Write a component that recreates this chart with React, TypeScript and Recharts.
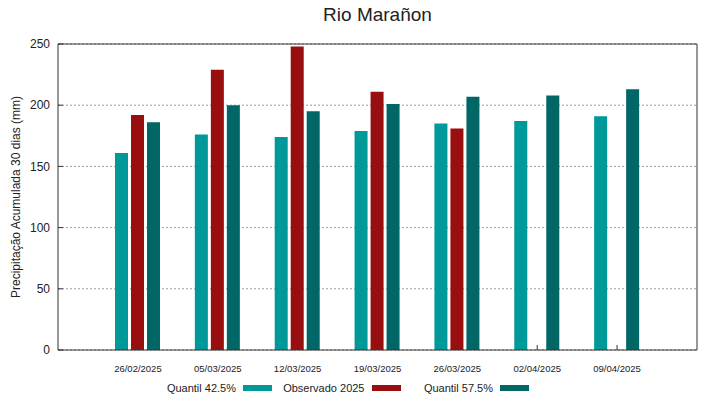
import React from "react";
import { ComposedChart, Bar, Line, XAxis, YAxis, CartesianGrid } from "recharts";

const DATES = ["26/02/2025", "05/03/2025", "12/03/2025", "19/03/2025", "26/03/2025", "02/04/2025", "09/04/2025"];
const Q425 = [161, 176, 174, 179, 185, 187, 191];
const OBS: (number | null)[] = [192, 229, 248, 211, 181, null, null];
const Q575 = [186, 200, 195, 201, 207, 208, 213];
const Y_TICKS = [0, 50, 100, 150, 200, 250];

const SERIES = [
  { key: "q425", name: "Quantil 42.5%", color: "#009999" },
  { key: "obs", name: "Observado 2025", color: "#990f0f" },
  { key: "q575", name: "Quantil 57.5%", color: "#006666" },
];

const data = DATES.map((date, i) => ({ date, q425: Q425[i], obs: OBS[i], q575: Q575[i] }));

const FONT = "'Liberation Sans', Arial, sans-serif";
const AXIS = "#333";
const TXT = { fill: "#222", fontSize: 12, fontFamily: FONT };

export default function App() {
  return (
    <div style={{ position: "absolute", left: 0, top: 0, width: 719, height: 399, background: "#fff", fontFamily: FONT, color: "#222" }}>
      <div style={{ position: "absolute", left: 58, width: 639, top: 4, textAlign: "center", fontSize: 19 }}>Rio Marañon</div>
      <div
        style={{
          position: "absolute", left: 16, top: 197, width: 300, marginLeft: -150, textAlign: "center",
          fontSize: 12, lineHeight: "14px", marginTop: -7, transform: "rotate(-90deg)", whiteSpace: "nowrap",
        }}
      >
        Precipitação Acumulada 30 dias (mm)
      </div>
      <ComposedChart width={719} height={399} data={data} barSize={13} barGap={3}
        margin={{ top: 43, right: 21, left: 18, bottom: 19 }}>
        <CartesianGrid vertical={false} stroke="#999" strokeDasharray="2 2" />
        <XAxis dataKey="date" padding={{ left: 40, right: 40 }} height={30}
          tick={{ ...TXT, fontSize: 9.5 }} tickSize={-5} tickMargin={20}
          axisLine={{ stroke: AXIS }} tickLine={{ stroke: AXIS }} interval={0} />
        <XAxis xAxisId="top" orientation="top" dataKey="date" padding={{ left: 40, right: 40 }} height={1}
          tick={false} tickSize={-5} axisLine={{ stroke: AXIS }} tickLine={{ stroke: AXIS }} interval={0} />
        <YAxis domain={[0, 250]} ticks={Y_TICKS} width={40} tick={TXT} tickSize={-5} tickMargin={13}
          axisLine={{ stroke: AXIS }} tickLine={{ stroke: AXIS }} />
        <YAxis yAxisId="right" orientation="right" domain={[0, 250]} ticks={Y_TICKS} width={1}
          tick={false} tickSize={-5} axisLine={{ stroke: AXIS }} tickLine={{ stroke: AXIS }} />
        {SERIES.map((s) => (
          <Bar key={s.key} dataKey={s.key} name={s.name} fill={s.color} isAnimationActive={false} />
        ))}
        <Line xAxisId="top" yAxisId="right" dataKey="q575" stroke="none" dot={false} activeDot={false}
          legendType="none" isAnimationActive={false} />
      </ComposedChart>
      {SERIES.map((s, i) => (
        <div key={s.key} style={{ position: "absolute", top: 381, left: 243 + i * 128.5 - 120, width: 149, height: 14, fontSize: 11, lineHeight: "14px" }}>
          <span style={{ position: "absolute", right: 36, whiteSpace: "nowrap" }}>{s.name}</span>
          <span style={{ position: "absolute", right: 0, top: 4, width: 29, height: 6, background: s.color }} />
        </div>
      ))}
    </div>
  );
}
